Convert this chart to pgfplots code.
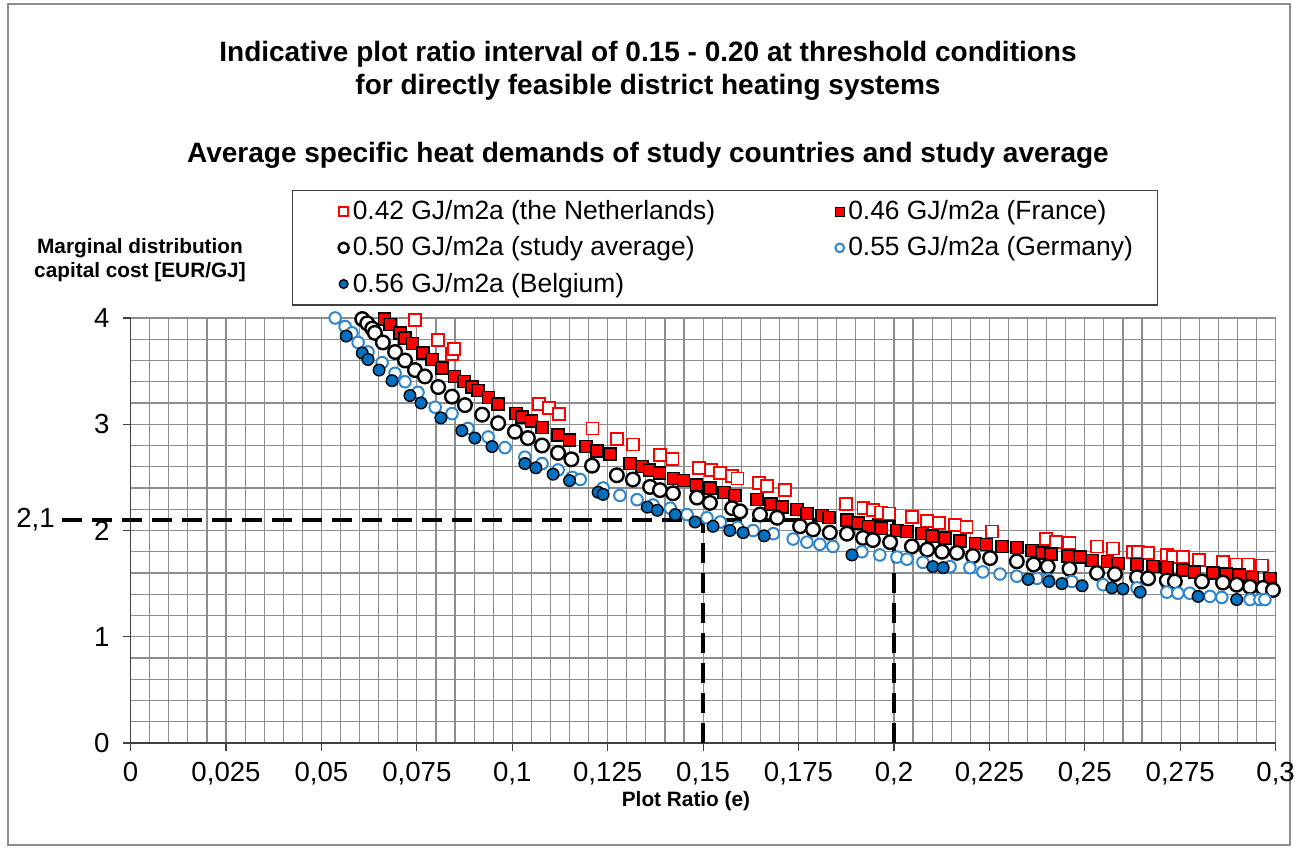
\documentclass[border=0pt]{standalone}
\usepackage{fontspec}
\setmainfont{Liberation Sans}
\usepackage{pgfplots}
\pgfplotsset{compat=1.18}
\definecolor{exred}{RGB}{255,0,0}
\definecolor{gerblue}{RGB}{46,134,208}
\definecolor{belblue}{RGB}{0,112,192}

\pgfplotstableread{
x y
0.0745 3.98
0.0806 3.79
0.0842 3.66
0.0848 3.71
0.1070 3.19
0.1097 3.15
0.1122 3.10
0.1210 2.96
0.1274 2.86
0.1316 2.81
0.1387 2.71
0.1420 2.67
0.1490 2.59
0.1520 2.57
0.1545 2.54
0.1575 2.51
0.1590 2.49
0.1647 2.45
0.1668 2.42
0.1714 2.38
0.1875 2.25
0.1920 2.21
0.1945 2.19
0.1966 2.17
0.1987 2.16
0.2047 2.13
0.2087 2.09
0.2118 2.07
0.2160 2.05
0.2190 2.03
0.2257 1.99
0.2398 1.92
0.2425 1.89
0.2460 1.88
0.2532 1.85
0.2574 1.83
0.2626 1.80
0.2639 1.80
0.2666 1.79
0.2715 1.77
0.2731 1.75
0.2757 1.75
0.2799 1.72
0.2862 1.70
0.2896 1.68
0.2928 1.68
0.2964 1.67
}\nl

\pgfplotstableread{
x y
0.0665 3.99
0.0680 3.94
0.0706 3.86
0.0719 3.81
0.0738 3.76
0.0766 3.67
0.0790 3.61
0.0816 3.53
0.0848 3.45
0.0874 3.40
0.0895 3.35
0.0910 3.32
0.0937 3.25
0.0963 3.19
0.1010 3.10
0.1026 3.07
0.1050 3.03
0.1078 2.97
0.1120 2.90
0.1150 2.85
0.1193 2.79
0.1222 2.75
0.1256 2.72
0.1308 2.63
0.1340 2.60
0.1360 2.57
0.1385 2.54
0.1422 2.49
0.1448 2.47
0.1482 2.43
0.1518 2.40
0.1555 2.36
0.1584 2.33
0.1641 2.29
0.1678 2.25
0.1707 2.22
0.1746 2.20
0.1772 2.16
0.1811 2.14
0.1830 2.12
0.1877 2.10
0.1906 2.07
0.1934 2.04
0.1968 2.02
0.2008 2.00
0.2034 1.99
0.2073 1.97
0.2100 1.95
0.2134 1.93
0.2173 1.90
0.2213 1.88
0.2243 1.87
0.2283 1.85
0.2322 1.84
0.2362 1.81
0.2388 1.79
0.2411 1.78
0.2456 1.76
0.2488 1.75
0.2519 1.72
0.2559 1.71
0.2587 1.69
0.2637 1.68
0.2679 1.66
0.2715 1.65
0.2757 1.63
0.2788 1.61
0.2836 1.60
0.2872 1.59
0.2906 1.58
0.2940 1.56
0.2985 1.55
}\fr

\pgfplotstableread{
x y
0.0607 3.99
0.0620 3.95
0.0633 3.90
0.0640 3.86
0.0661 3.77
0.0693 3.68
0.0719 3.60
0.0745 3.51
0.0771 3.45
0.0806 3.35
0.0842 3.26
0.0876 3.18
0.0921 3.09
0.0963 3.01
0.1007 2.93
0.1041 2.87
0.1078 2.80
0.1120 2.73
0.1155 2.67
0.1209 2.61
0.1274 2.52
0.1316 2.48
0.1361 2.41
0.1387 2.38
0.1421 2.35
0.1484 2.31
0.1518 2.26
0.1576 2.21
0.1597 2.18
0.1649 2.15
0.1694 2.12
0.1754 2.04
0.1788 2.01
0.1832 1.98
0.1877 1.97
0.1919 1.93
0.1945 1.91
0.1990 1.89
0.2047 1.85
0.2087 1.82
0.2126 1.80
0.2165 1.79
0.2207 1.76
0.2252 1.74
0.2322 1.71
0.2366 1.68
0.2403 1.66
0.2460 1.64
0.2532 1.60
0.2579 1.59
0.2637 1.56
0.2666 1.55
0.2715 1.53
0.2736 1.52
0.2807 1.52
0.2862 1.51
0.2898 1.49
0.2933 1.47
0.2967 1.46
0.2993 1.44
}\sa

\pgfplotstableread{
x y
0.0536 4.00
0.0562 3.92
0.0580 3.86
0.0596 3.77
0.0622 3.68
0.0659 3.58
0.0693 3.48
0.0719 3.40
0.0753 3.30
0.0798 3.16
0.0842 3.10
0.0884 2.96
0.0937 2.88
0.0981 2.78
0.1033 2.69
0.1078 2.63
0.1120 2.57
0.1157 2.50
0.1178 2.48
0.1238 2.40
0.1282 2.33
0.1327 2.29
0.1369 2.24
0.1414 2.21
0.1458 2.15
0.1510 2.12
0.1545 2.08
0.1590 2.03
0.1631 2.00
0.1684 1.97
0.1736 1.92
0.1772 1.89
0.1806 1.87
0.1840 1.85
0.1916 1.80
0.1963 1.77
0.2008 1.75
0.2034 1.73
0.2076 1.70
0.2147 1.66
0.2199 1.65
0.2233 1.61
0.2278 1.59
0.2322 1.57
0.2375 1.55
0.2403 1.54
0.2466 1.52
0.2548 1.49
0.2637 1.46
0.2715 1.42
0.2744 1.41
0.2775 1.41
0.2828 1.38
0.2859 1.37
0.2933 1.35
0.2959 1.35
0.2972 1.35
}\de

\pgfplotstableread{
x y
0.0565 3.83
0.0607 3.67
0.0622 3.61
0.0651 3.51
0.0685 3.41
0.0732 3.27
0.0761 3.20
0.0813 3.06
0.0868 2.94
0.0902 2.87
0.0947 2.79
0.1033 2.63
0.1062 2.59
0.1107 2.53
0.1150 2.47
0.1225 2.36
0.1238 2.34
0.1354 2.22
0.1380 2.19
0.1427 2.15
0.1479 2.08
0.1526 2.04
0.1570 2.00
0.1605 1.98
0.1660 1.95
0.1890 1.77
0.2102 1.66
0.2129 1.65
0.2352 1.54
0.2406 1.52
0.2440 1.50
0.2493 1.48
0.2571 1.46
0.2600 1.45
0.2645 1.42
0.2797 1.38
0.2898 1.35
}\be

\begin{document}
\begin{tikzpicture}
\path[use as bounding box] (-65.3pt,371.5pt) rectangle (582.2pt,-52.5pt);
\draw[black!45, line width=0.8pt] (-61.3pt,369.5pt) rectangle (579.7pt,-51pt);
\begin{axis}[
  at={(0pt,0pt)}, anchor=south west,
  scale only axis, width=572.5pt, height=212.5pt,
  xmin=0, xmax=0.3, ymin=0, ymax=4,
  enlargelimits=false, clip=false,
  xtick={0,0.025,0.05,0.075,0.1,0.125,0.15,0.175,0.2,0.225,0.25,0.275,0.3},
  ytick={0,1,2,3,4},
  minor x tick num=4, minor y tick num=4,
  grid=both,
  major grid style={black!45, line width=0.6pt},
  minor grid style={black!45, line width=0.6pt},
  axis lines=left,
  axis line style={-, black!75, line width=0.8pt},
  tick align=outside, major tick length=4pt, minor tick length=0pt,
  tick style={black!75, line width=0.6pt},
  /pgf/number format/.cd, use comma, fixed, precision=3, assume math mode=true,
  /pgfplots/.cd,
  ticklabel style={font=\fontsize{13.8pt}{16pt}\selectfont},
  xticklabel style={yshift=-2pt},
  yticklabel style={xshift=-3pt},
  legend columns=2,
  legend cell align=left,
  legend style={at={(rel axis cs:0.141,1.301)}, anchor=north west,
    draw=black!75, line width=0.6pt, font=\fontsize{13.2pt}{15pt}\selectfont,
    inner xsep=2.5pt, inner ysep=3pt, row sep=3pt},
  legend image code/.code={\path[draw=none,fill=none] (-19pt,0pt) (0pt,0pt);\draw[mark repeat=2,mark phase=2,every mark/.append style={scale=0.75}] plot coordinates {(0pt,0pt) (4pt,0pt) (8pt,0pt)};},
]
\addplot[black, line width=2.2pt, dash pattern=on 10pt off 5pt, forget plot] coordinates {(-0.018,2.1) (0.2,2.1)};
\addplot[black, line width=2.2pt, dash pattern=on 10pt off 5pt, forget plot] coordinates {(0.15,0) (0.15,2.1)};
\addplot[black, line width=2.2pt, dash pattern=on 10pt off 5pt, forget plot] coordinates {(0.2,0) (0.2,2.1)};

\addplot[only marks, mark=square*, mark size=3pt, mark options={draw=exred, fill=white, line width=0.9pt}] table {\nl};
\addlegendentry{\makebox[218.5pt][l]{0.42 GJ/m2a (the Netherlands)}}
\addplot[only marks, mark=square*, mark size=3pt, mark options={draw=black, fill=exred, line width=0.7pt}] table {\fr};
\addlegendentry{\makebox[150pt][l]{0.46 GJ/m2a (France)}}
\addplot[only marks, mark=*, mark size=3.4pt, mark options={draw=black, fill=white, line width=1.2pt}] table {\sa};
\addlegendentry{\makebox[218.5pt][l]{0.50 GJ/m2a (study average)}}
\addplot[only marks, mark=*, mark size=2.9pt, mark options={draw=gerblue, fill=white, line width=1pt}] table {\de};
\addlegendentry{\makebox[150pt][l]{0.55 GJ/m2a (Germany)}}
\addplot[only marks, mark=*, mark size=2.9pt, mark options={draw=black, fill=belblue, line width=0.7pt}] table {\be};
\addlegendentry{\makebox[218.5pt][l]{0.56 GJ/m2a (Belgium)}}

\node[font=\fontsize{13.8pt}{16pt}\selectfont, anchor=east, inner sep=0pt] at (axis cs:-0.0198,2.1) {2,1};
\end{axis}
\node[font=\bfseries\fontsize{14pt}{16.5pt}\selectfont, align=center] at (258.7pt,336pt) {Indicative plot ratio interval of 0.15 - 0.20 at threshold conditions\\for directly feasible district heating systems};
\node[font=\bfseries\fontsize{14pt}{16.5pt}\selectfont] at (258.7pt,294pt) {Average specific heat demands of study countries and study average};
\node[font=\bfseries\fontsize{10.4pt}{12pt}\selectfont, align=center] at (4.7pt,241.5pt) {Marginal distribution\\capital cost [EUR/GJ]};
\node[font=\bfseries\fontsize{10.4pt}{12pt}\selectfont] at (277.7pt,-29pt) {Plot Ratio (e)};
\end{tikzpicture}
\end{document}
